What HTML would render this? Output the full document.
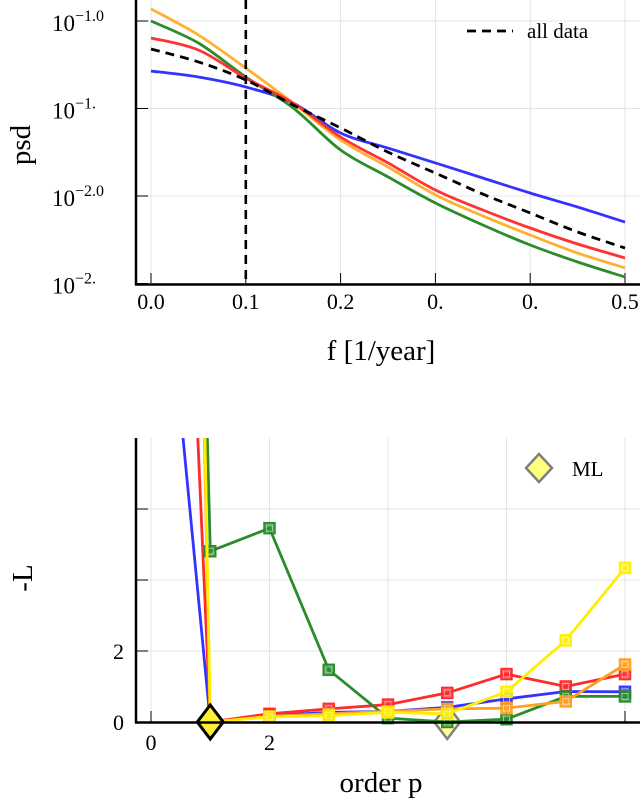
<!DOCTYPE html>
<html><head><meta charset="utf-8"><style>
html,body{margin:0;padding:0;background:#fff;}
svg{display:block;font-family:"Liberation Serif",serif;}
</style></head><body>
<svg id="c" width="640" height="800" viewBox="0 0 640 800">
<g id="topchart"></g>
<g id="botchart"></g>
</svg>
<script>
const NS="http://www.w3.org/2000/svg";
// ---- top chart data ----
const freqs=[0,0.05,0.1,0.15,0.2,0.25,0.3,0.35,0.4,0.45,0.5];
const psdBlue=[-1.286,-1.320,-1.377,-1.469,-1.640,-1.726,-1.811,-1.897,-1.983,-2.063,-2.149];
const psdGreen=[-1.000,-1.126,-1.320,-1.497,-1.737,-1.891,-2.040,-2.166,-2.280,-2.377,-2.463];
const psdOrange=[-0.931,-1.080,-1.269,-1.469,-1.680,-1.834,-1.994,-2.114,-2.223,-2.326,-2.411];
const psdRed=[-1.097,-1.166,-1.326,-1.469,-1.663,-1.811,-1.966,-2.080,-2.183,-2.274,-2.354];
const psdAll=[-1.160,-1.234,-1.337,-1.480,-1.611,-1.749,-1.869,-1.989,-2.097,-2.206,-2.297];
const xTickVals=[0,0.1,0.2,0.3,0.4,0.5];
const xTickLabels=["0.0","0.1","0.2","0.","0.","0.5"];
const yTickVals=[-1.0,-1.5,-2.0,-2.5];
const yTickLabels=["\u22121.0","\u22121.","\u22122.0","\u22122."];
const cutoffFreq=0.1;
// ---- bottom chart data ----
const orders=[0,1,2,3,4,5,6,7,8];
const nllBlue=[17.4,0,0.18,0.27,0.30,0.41,0.65,0.86,0.85];
const nllRed=[38,0,0.23,0.37,0.49,0.82,1.35,1.0,1.35];
const nllGreen=[69,4.81,5.46,1.47,0.11,0,0.08,0.72,0.72];
const nllOrange=[80,0,0.16,0.23,0.30,0.37,0.39,0.58,1.62];
const nllYellow=[89,0,0.14,0.18,0.27,0.23,0.85,2.3,4.34];
const pTickVals=[0,2,4,6,8];
const pTickLabels=["0","2","","",""];
const lTickVals=[0,2,4,6];
const lTickLabels=["0","2","",""];
const mlBest=[1,0];
const mlOther=[5,0];

function el(tag,attrs,parent){const e=document.createElementNS(NS,tag);for(const k in attrs)e.setAttribute(k,attrs[k]);parent.appendChild(e);return e;}
const topG=document.getElementById('topchart'),botG=document.getElementById('botchart');

const fx=f=>151+948*f, fy=v=>21+(-1.0-v)*175;
const defs=el('defs',{},document.getElementById('c'));
const cp=el('clipPath',{id:'cpt'},defs);el('rect',{x:136,y:0,width:504,height:284},cp);
const cp2=el('clipPath',{id:'cpb'},defs);el('rect',{x:136,y:438,width:504,height:300},cp2);

xTickVals.forEach((v,i)=>{
 const g=el('line',{x1:fx(v),x2:fx(v),y1:0,y2:284,stroke:'#e4e4e4','stroke-width':1},topG);
 
 el('line',{x1:fx(v),x2:fx(v),y1:273,y2:284,stroke:'#000','stroke-width':1},topG);
 const t=el('text',{x:fx(v),y:309,'font-size':22,'text-anchor':'middle'},topG);t.textContent=xTickLabels[i];
 
});
yTickVals.forEach((v,i)=>{
 const g=el('line',{x1:136,x2:640,y1:fy(v),y2:fy(v),stroke:'#e4e4e4','stroke-width':1},topG);
 
 el('line',{x1:136,x2:148,y1:fy(v),y2:fy(v),stroke:'#000','stroke-width':1},topG);
 const t=el('text',{x:52,y:fy(v)+10,'font-size':23},topG);
 
 t.textContent='10';const s=el('tspan',{dy:-10,'font-size':16},t);s.textContent=yTickLabels[i];
});
function pathD(xs,ys,X,Y){return xs.map((x,i)=>(i?'L':'M')+X(x).toFixed(1)+','+Y(ys[i]).toFixed(1)).join(' ');}
function smoothD(xs,ys,X,Y){const p=xs.map((x,i)=>[X(x),Y(ys[i])]);let d='M'+p[0][0]+','+p[0][1];
 for(let i=0;i<p.length-1;i++){const p0=p[Math.max(0,i-1)],p1=p[i],p2=p[i+1],p3=p[Math.min(p.length-1,i+2)];
 const c1=[p1[0]+(p2[0]-p0[0])/6,p1[1]+(p2[1]-p0[1])/6],c2=[p2[0]-(p3[0]-p1[0])/6,p2[1]-(p3[1]-p1[1])/6];
 d+=` C${c1[0].toFixed(1)},${c1[1].toFixed(1)} ${c2[0].toFixed(1)},${c2[1].toFixed(1)} ${p2[0].toFixed(1)},${p2[1].toFixed(1)}`;}return d;}
[[psdBlue,'#3333ff','psd-blue'],[psdGreen,'#2a8c2a','psd-green'],[psdOrange,'#ffb02e','psd-orange'],[psdRed,'#ff3333','psd-red']].forEach(([s,c,n])=>{
 const p=el('path',{d:smoothD(freqs,s,fx,fy),fill:'none',stroke:c,'stroke-width':2.8,'clip-path':'url(#cpt)'},topG);
 
});
const pa=el('path',{d:smoothD(freqs,psdAll,fx,fy),fill:'none',stroke:'#000','stroke-width':2.8,'stroke-dasharray':'9,6','clip-path':'url(#cpt)'},topG);

const vl=el('line',{x1:fx(cutoffFreq),x2:fx(cutoffFreq),y1:0,y2:284,stroke:'#000','stroke-width':2.6,'stroke-dasharray':'9,6'},topG);

el('line',{x1:136,x2:136,y1:0,y2:285,stroke:'#000','stroke-width':2.5},topG);
el('line',{x1:135,x2:640,y1:284.5,y2:284.5,stroke:'#000','stroke-width':2.5},topG);
const lg=el('g',{},topG);
el('line',{x1:467,x2:513,y1:31,y2:31,stroke:'#000','stroke-width':2.8,'stroke-dasharray':'9,6'},lg);
const lt=el('text',{x:527,y:38,'font-size':21},lg);lt.textContent='all data';
let t=el('text',{x:30,y:145,'font-size':29,'text-anchor':'middle',transform:'rotate(-90 30 145)'},topG);t.textContent='psd';

t=el('text',{x:381,y:360,'font-size':29,'text-anchor':'middle'},topG);t.textContent='f [1/year]';


const px=p=>151+59.25*p, ly=v=>722-35.5*v;
pTickVals.forEach((v,i)=>{
 const g=el('line',{x1:px(v),x2:px(v),y1:438,y2:722,stroke:'#e4e4e4','stroke-width':1},botG);
 
 el('line',{x1:px(v),x2:px(v),y1:711,y2:722,stroke:'#000','stroke-width':1},botG);
 if(pTickLabels[i]){const tt=el('text',{x:px(v),y:750,'font-size':22,'text-anchor':'middle'},botG);tt.textContent=pTickLabels[i];
 }
});
lTickVals.forEach((v,i)=>{
 const g=el('line',{x1:136,x2:640,y1:ly(v),y2:ly(v),stroke:'#e4e4e4','stroke-width':1},botG);
 
 el('line',{x1:136,x2:148,y1:ly(v),y2:ly(v),stroke:'#000','stroke-width':1},botG);
 if(lTickLabels[i]){const tt=el('text',{x:124,y:ly(v)+8,'font-size':22,'text-anchor':'end'},botG);tt.textContent=lTickLabels[i];
 }
});
function diamond(x,y,stroke,fill,name,sw){const d=el('path',{d:`M${x},${y-17} L${x+13},${y} L${x},${y+17} L${x-13},${y} Z`,fill:fill,stroke:stroke,'stroke-width':sw},botG);
 return d;}
diamond(px(mlOther[0]),ly(mlOther[1]),'#808080','rgba(255,255,120,0.75)','ml-marker-secondary',2.5);
[[nllBlue,'#3333ff','nll-blue'],[nllRed,'#ff2a2a','nll-red'],[nllGreen,'#2a8c2a','nll-green'],[nllOrange,'#ffa020','nll-orange'],[nllYellow,'#ffee00','nll-yellow']].forEach(([s,c,n])=>{
 const g=el('g',{'clip-path':'url(#cpb)'},botG);
 el('path',{d:pathD(orders,s,px,ly),fill:'none',stroke:c,'stroke-width':2.8},g);
 orders.forEach((o,i)=>{if(o<1)return;
  const r=el('rect',{x:px(o)-5.5,y:ly(s[i])-5.5,width:11,height:11,fill:c,'fill-opacity':0.85,stroke:c,'stroke-width':1.5},g);
  
  el('rect',{x:px(o)-3,y:ly(s[i])-3,width:6,height:6,fill:'none',stroke:'rgba(255,255,255,0.5)','stroke-width':1},g);
 });
});
diamond(px(mlBest[0]),ly(mlBest[1]),'#000','#ffee33','ml-marker-best',3);
el('line',{x1:136,x2:136,y1:438,y2:723,stroke:'#000','stroke-width':2.5},botG);
el('line',{x1:135,x2:640,y1:722.5,y2:722.5,stroke:'#000','stroke-width':2.5},botG);
const lg2=el('g',{},botG);
el('path',{d:'M539,454 L552,468 L539,482 L526,468 Z',fill:'#ffff80',stroke:'#808080','stroke-width':2.5},lg2);
const lt2=el('text',{x:572,y:476,'font-size':21},lg2);lt2.textContent='ML';
t=el('text',{x:32,y:578,'font-size':29,'text-anchor':'middle',transform:'rotate(-90 32 578)'},botG);t.textContent='-L';

t=el('text',{x:381,y:792,'font-size':29,'text-anchor':'middle'},botG);t.textContent='order p';

</script>
</body></html>
